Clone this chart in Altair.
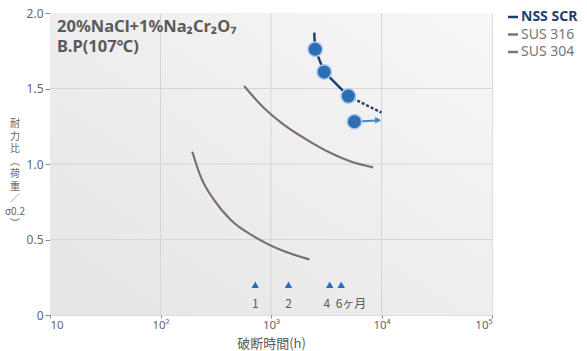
import altair as alt
import pandas as pd

# ---- data ----
x_ticks = [10, 100, 1000, 10000, 100000]
x_tick_labels = ["10", "10²", "10³", "10⁴", "10⁵"]
y_ticks = [0, 0.5, 1.0, 1.5, 2.0]
y_tick_labels = ["0", "0.5", "1.0", "1.5", "2.0"]
grid_x = [100, 1000, 10000]
grid_y = [0.5, 1.0, 1.5]

sus316_t = [571, 869, 1321, 2010, 3510, 5340, 8410]
sus316_r = [1.517, 1.369, 1.258, 1.170, 1.071, 1.015, 0.978]
sus304_t = [194, 231, 305, 433, 705, 1233, 2230]
sus304_r = [1.081, 0.916, 0.762, 0.629, 0.519, 0.430, 0.368]
nss_line_t = [2460, 2510, 3030, 5010]
nss_line_r = [1.87, 1.76, 1.61, 1.45]
nss_pt_t = [2510, 3030, 5010, 5690]
nss_pt_r = [1.76, 1.61, 1.45, 1.28]
nss_dash_t = [5010, 10000]
nss_dash_r = [1.45, 1.34]
nss_arrow_t = [5690, 9700]
nss_arrow_r = [1.28, 1.29]
nss_head_t = [9300]
nss_head_r = [1.29]
month_t = [720, 1440, 3400, 4320]
month_label_t = [720, 1440, 3200, 5300]
month_labels = ["1", "2", "4", "6ヶ月"]
month_mark_r = [0.2, 0.2, 0.2, 0.2]
month_label_r = [0.07, 0.07, 0.07, 0.07]

legend_names = ["NSS SCR", "SUS 316", "SUS 304"]
title_lines = ["20%NaCl+1%Na₂Cr₂O₇", "B.P(107℃)"]
ytitle_chars = ["耐", "力", "比", "︵", "荷", "重", "／", "σ0.2", "︶"]
x_title = "破断時間(h)"

# ---- styling ----
W, H = 442, 302
LAT = "Noto Sans"
JP = "Noto Sans CJK JP"
GRAY_TXT = "#5a5a5a"
CURVE = "#7b6f73"
BLUE = "#2d6db3"
NAVY = "#1f3f6e"

def expr_map(vals, labs):
    return " : ".join(f"datum.value == {v} ? '{l}'" for v, l in zip(vals, labs)) + " : ''"

xs = alt.Scale(type="log", domain=[10, 100000], nice=False)
ys = alt.Scale(domain=[0, 2], nice=False)

X = lambda: alt.X("t:Q", scale=xs)
Y = lambda: alt.Y("r:Q", scale=ys)

dummy = pd.DataFrame({"a": [0]})

axes = alt.Chart(pd.DataFrame({"t": [10, 100000], "r": [0, 2]})).mark_point(opacity=0).encode(
    x=alt.X("t:Q", scale=xs, axis=alt.Axis(
        values=x_ticks, labelExpr=expr_map(x_ticks, x_tick_labels), title=x_title, labelFlush=True,
        domain=False, grid=False, tickColor="#888", tickSize=3,
        labelFont=LAT, labelFontSize=11.5, labelColor="#666", labelPadding=1,
        titleFont=JP, titleFontSize=13, titleColor=GRAY_TXT, titleFontWeight="normal",
        titlePadding=0, titleY=35, titleBaseline="bottom")),
    y=alt.Y("r:Q", scale=ys, axis=alt.Axis(
        values=y_ticks, labelExpr=expr_map(y_ticks, y_tick_labels),
        title=None, domain=False, grid=False, tickColor="#888", tickSize=5,
        labelFont=LAT, labelFontSize=12, labelColor="#666", labelPadding=2)),
)

bg = alt.Chart(dummy).mark_rect(
    color=alt.LinearGradient(
        gradient="linear",
        stops=[alt.GradientStop(color="#e5e5e5", offset=0),
               alt.GradientStop(color="#f7f7f7", offset=1)],
        x1=0, y1=1, x2=1, y2=0,
    )
).encode(x=alt.value(0), x2=alt.value(W), y=alt.value(0), y2=alt.value(H))

gx = alt.Chart(pd.DataFrame({"t": grid_x})).mark_rule(color="#d6d6d6", strokeWidth=1).encode(x=X())
gy = alt.Chart(pd.DataFrame({"r": grid_y})).mark_rule(color="#d6d6d6", strokeWidth=1).encode(y=Y())

def curve(ts, rs, color, width=2.2, dash=None, interp="monotone"):
    kw = dict(color=color, strokeWidth=width, interpolate=interp)
    if dash:
        kw["strokeDash"] = dash
    return alt.Chart(pd.DataFrame({"t": ts, "r": rs})).mark_line(**kw).encode(
        x=X(), y=Y(), order=alt.Order("t:Q"))

c316 = curve(sus316_t, sus316_r, CURVE)
c304 = curve(sus304_t, sus304_r, CURVE)
cnss = alt.Chart(pd.DataFrame({"t": nss_line_t, "r": nss_line_r, "o": list(range(len(nss_line_t)))})).mark_line(
    color=NAVY, strokeWidth=2.5).encode(x=X(), y=Y(), order="o:Q")
cdash = curve(nss_dash_t, nss_dash_r, "#2b3f63", width=2.5, dash=[3, 2], interp="linear")
carrow = curve(nss_arrow_t, nss_arrow_r, "#4a86c8", width=2, interp="linear")
chead = alt.Chart(pd.DataFrame({"t": nss_head_t, "r": nss_head_r})).mark_point(
    shape="triangle-right", filled=True, color="#4a86c8", size=45, opacity=1).encode(x=X(), y=Y())
pts = alt.Chart(pd.DataFrame({"t": nss_pt_t, "r": nss_pt_r})).mark_circle(
    size=210, color=BLUE, stroke="#a9cbee", strokeWidth=1.5, opacity=1).encode(x=X(), y=Y())

months = pd.DataFrame({"t": month_t, "r": month_mark_r})
months_lab = pd.DataFrame({"t": month_label_t, "r": month_label_r, "lab": month_labels})
tri = alt.Chart(months).mark_point(shape="triangle-up", filled=True, color=BLUE, size=55, opacity=1).encode(
    x=X(), y=Y())
mlab = alt.Chart(months_lab).mark_text(font=JP, fontSize=12, color=GRAY_TXT, align="center",
                                       baseline="middle").encode(x=X(), y=Y(), text="lab:N")

title = alt.Chart(pd.DataFrame({"txt": [title_lines]})).mark_text(
    font=LAT, fontSize=16.5, fontWeight="bold", color=GRAY_TXT, align="left", baseline="top",
    lineHeight=19.5).encode(x=alt.value(7), y=alt.value(6), text="txt")

ytitle = alt.Chart(pd.DataFrame({"txt": [ytitle_chars]})).mark_text(
    font=JP, fontSize=10, color="#666", align="center", baseline="top", lineHeight=12.5).encode(
    x=alt.value(-35), y=alt.value(106), text="txt")

leg_layers = []
leg_colors = [NAVY, "#777777", "#777777"]
leg_weights = ["bold", "normal", "normal"]
for i, (nm, col, wt) in enumerate(zip(legend_names, leg_colors, leg_weights)):
    yy = 4 + 17.5 * i
    leg_layers.append(alt.Chart(dummy).mark_rule(color=col, strokeWidth=2.5).encode(
        x=alt.value(458), x2=alt.value(468), y=alt.value(yy)))
    leg_layers.append(alt.Chart(dummy).mark_text(
        text=nm, font=LAT, fontSize=14, fontWeight=wt, color=col, align="left", baseline="middle").encode(
        x=alt.value(471), y=alt.value(yy)))

chart = alt.layer(
    axes, bg, gx, gy, c304, c316, cdash, carrow, chead, cnss, pts, tri, mlab, title, ytitle, *leg_layers
).properties(
    width=W, height=H,
    autosize=alt.AutoSizeParams(type="none"),
    padding={"left": 50, "top": 13, "right": 95, "bottom": 36},
).configure_view(stroke=None).configure(background="white")

chart.save("out.html", embed_options={"renderer": "svg", "actions": False})
